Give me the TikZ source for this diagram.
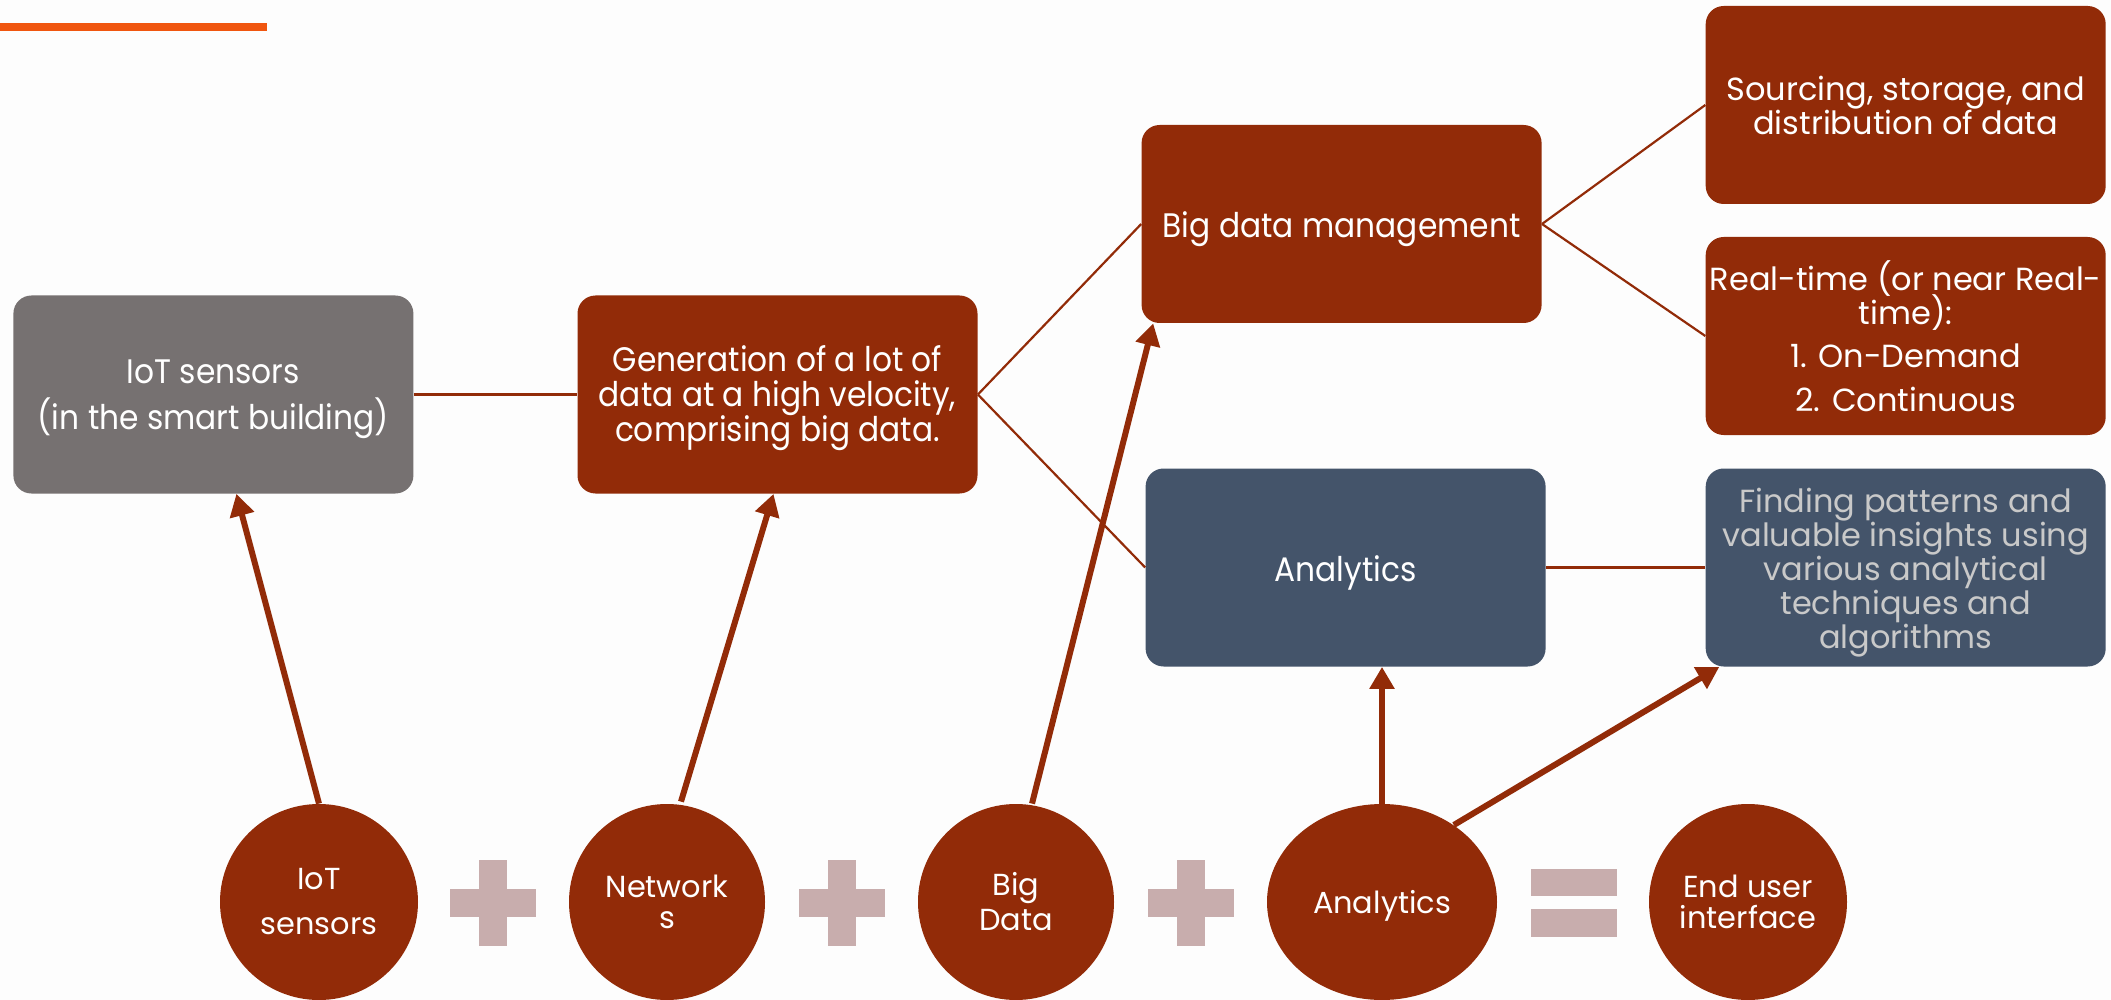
\documentclass[tikz,border=0pt]{standalone}
\usepackage{fontspec}
\setmainfont{Poppins}
\newfontfamily\narrowfont[FakeStretch=0.92]{Poppins}
\usetikzlibrary{arrows.meta,shapes.geometric,calc}
\definecolor{rust}{RGB}{146,43,8}
\definecolor{slate}{HTML}{44546A}
\definecolor{stone}{HTML}{767171}
\definecolor{mist}{HTML}{C8ADAD}
\definecolor{flame}{HTML}{F0560F}
\definecolor{paper}{HTML}{FDFDFD}
\definecolor{pale}{HTML}{C9C9C9}
% keep every line on its baseline grid, whatever the glyph depths
\newcommand{\tightlines}{\lineskiplimit=-20pt\lineskip=0pt\relax}
% invisible strut that lowers a centred text block
\newcommand{\lift}[1]{\rule{0pt}{#1}}
\begin{document}
\begin{tikzpicture}[x=0.5pt,y=-0.5pt,
  card/.style={rounded corners=9pt, minimum width=200pt, minimum height=99pt,
    inner sep=0pt, align=center, text=white},
  wide/.style={font=\fontsize{16}{17}\selectfont\tightlines},
  narrow/.style={font=\narrowfont\fontsize{17}{17.6}\selectfont\tightlines},
  disc/.style={ellipse, fill=rust, inner sep=0pt, minimum height=98pt,
    align=center, text=white, font=\fontsize{15.2}{15.5}\selectfont\tightlines},
  link/.style={draw=rust, line width=1.1pt},
  push/.style={draw=rust, line width=3pt,
    -{Triangle[length=11pt,width=12pt]}},
]
% canvas
\fill[paper] (0,0) rectangle (2111,1000);
\useasboundingbox (0,0) rectangle (2111,1000);
\fill[flame] (0,23) rectangle (267,31);

% boxes
\node[card, narrow, fill=stone] (iotbox) at (213.4,394.5)
  {\lift{17pt}IoT sensors\\[5.4pt](in the smart building)};
\node[card, narrow, fill=rust] (genbox) at (777.5,394.5)
  {\lift{16.7pt}Generation of a lot of\\data at a high velocity,\\comprising big data.};
\node[card, narrow, fill=rust] (bdmbox) at (1341.6,224)
  {\lift{18pt}Big data management};
\node[card, narrow, fill=slate] (anabox) at (1345.6,567.5)
  {\lift{18pt}Analytics};
\node[card, wide, fill=rust] (srcbox) at (1905.7,105)
  {Sourcing, storage, and\\distribution of data};
\node[card, wide, fill=rust] (rtbox) at (1905.7,336)
  {\lift{13.5pt}Real-time (or near Real-\\time):\\[4.8pt]1. On-Demand\\[4.8pt]2. Continuous};
\node[card, wide, fill=slate, text=pale] (findbox) at (1905.7,567.5)
  {\lift{17pt}Finding patterns and\\valuable insights using\\various analytical\\techniques and\\algorithms};

% bottom row
\node[disc, minimum width=99pt] (e1) at (319,902) {IoT\\[7pt]sensors};
\node[disc, minimum width=98pt] (e2) at (667,902) {Network\\s};
\node[disc, minimum width=98pt] (e3) at (1016,902) {Big\\[2pt]Data};
\node[disc, minimum width=115pt] (e4) at (1382,902) {\lift{15.5pt}Analytics};
\node[disc, minimum width=99pt] (e5) at (1748,902) {End user\\interface};

% plus and equals signs
\foreach \cx in {493,842,1191}{
  \fill[mist] (\cx-43,903-14) rectangle (\cx+43,903+14);
  \fill[mist] (\cx-14,903-43) rectangle (\cx+14,903+43);
}
\fill[mist] (1531,869) rectangle (1617,896);
\fill[mist] (1531,909) rectangle (1617,937);

% thin connectors
\draw[link] (iotbox.east) -- (genbox.west);
\draw[link] (genbox.east) -- (bdmbox.west);
\draw[link] (genbox.east) -- (anabox.west);
\draw[link] (bdmbox.east) -- (srcbox.west);
\draw[link] (bdmbox.east) -- (rtbox.west);
\draw[link] (anabox.east) -- (findbox.west);

% thick arrows
\draw[push] (e1.north) -- ($(iotbox.south)+(23,0)$);
\draw[push] ($(e2.north)+(14,-2)$) -- ($(genbox.south)+(-4,0)$);
\draw[push] ($(e3.north)+(16,0)$) -- ($(bdmbox.south west)+(12,0)$);
\draw[push] (e4.north) -- (e4.north |- anabox.south);
\draw[push] (e4.47) -- ($(findbox.south west)+(14,0)$);
\end{tikzpicture}
\end{document}
